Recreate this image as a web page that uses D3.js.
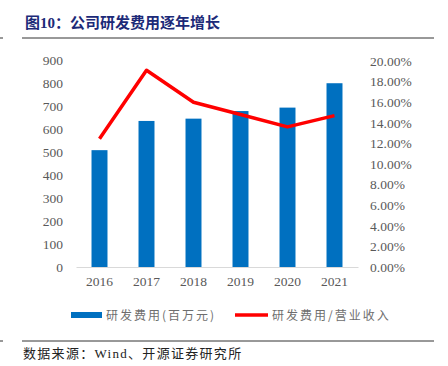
<!DOCTYPE html>
<html>
<head>
<meta charset="utf-8">
<script src="https://cdn.jsdelivr.net/npm/d3@7"></script>
<style>
  body { margin: 0; background: #fff; }
  svg text { font-family: "Liberation Serif", "Noto Sans CJK SC", serif; }
</style>
</head>
<body>
<div id="chart"></div>
<script>
const years = ["2016", "2017", "2018", "2019", "2020", "2021"];
const rdCost = [508, 635, 645, 678, 693, 799];
const rdRatio = [0.1245, 0.191, 0.160, 0.148, 0.136, 0.147];
const leftTicks = [0, 100, 200, 300, 400, 500, 600, 700, 800, 900];
const rightTicks = [0, 0.02, 0.04, 0.06, 0.08, 0.10, 0.12, 0.14, 0.16, 0.18, 0.20];

const width = 448, height = 366;
const blue = "#0070c0", red = "#ff0000", gray = "#595959";
const cjk = '"Noto Sans CJK SC", sans-serif';
const serif = '"Liberation Serif", "Noto Sans CJK SC", serif';

const svg = d3.select("#chart").append("svg")
  .attr("width", width).attr("height", height);

// title
svg.append("text")
  .attr("x", 25).attr("y", 28)
  .attr("fill", "#1c2a78")
  .attr("font-size", 15).attr("font-weight", "bold")
  .style("font-family", serif)
  .text("图10：公司研发费用逐年增长");
svg.append("line").attr("x1", 22).attr("x2", 434).attr("y1", 38).attr("y2", 38)
  .attr("stroke", "#333").attr("stroke-width", 1);
svg.append("line").attr("x1", 0).attr("x2", 3).attr("y1", 38).attr("y2", 38)
  .attr("stroke", "#333").attr("stroke-width", 1);

const x = d3.scaleBand().domain(years).range([76, 358]).paddingInner(0.66).paddingOuter(0.33);
const yL = d3.scaleLinear().domain([0, 900]).range([267, 60]);
const yR = d3.scaleLinear().domain([0, 0.20]).range([267, 61]);

// left axis
const axL = svg.append("g").attr("transform", "translate(76,0)")
  .call(d3.axisLeft(yL).tickValues(leftTicks).tickSize(0).tickPadding(13));
axL.select(".domain").remove();
axL.selectAll("text").attr("fill", gray).attr("font-size", 13.5)
  .style("font-family", '"Liberation Serif", serif');

// right axis
const axR = svg.append("g").attr("transform", "translate(358,0)")
  .call(d3.axisRight(yR).tickValues(rightTicks).tickSize(0).tickPadding(12)
    .tickFormat(d3.format(".2%")));
axR.select(".domain").remove();
axR.selectAll("text").attr("fill", gray).attr("font-size", 13.5)
  .style("font-family", '"Liberation Serif", serif');

// bars
svg.append("g").selectAll("rect").data(years).enter().append("rect")
  .attr("x", d => x(d))
  .attr("width", x.bandwidth())
  .attr("y", (d, i) => yL(rdCost[i]))
  .attr("height", (d, i) => yL(0) - yL(rdCost[i]))
  .attr("fill", blue);

// baseline + x axis
const axX = svg.append("g").attr("transform", "translate(0,267)")
  .call(d3.axisBottom(x).tickSize(0).tickPadding(9));
axX.select(".domain").attr("stroke", "#d9d9d9").attr("stroke-width", 1);
axX.selectAll("text").attr("fill", gray).attr("font-size", 13.5)
  .style("font-family", '"Liberation Serif", serif');

// ratio line
const line = d3.line()
  .x((d, i) => x(years[i]) + x.bandwidth() / 2)
  .y(d => yR(d));
svg.append("path").datum(rdRatio)
  .attr("d", line)
  .attr("fill", "none")
  .attr("stroke", red)
  .attr("stroke-width", 3.5)
  .attr("stroke-linejoin", "round");

// legend
const lg = svg.append("g");
lg.append("rect").attr("x", 71).attr("y", 312).attr("width", 31).attr("height", 6).attr("fill", blue);
lg.append("text").attr("x", 106).attr("y", 319.5).attr("fill", "#6e6e6e").attr("font-size", 12)
  .style("font-family", cjk).attr("letter-spacing", 2).text("研发费用(百万元)");
lg.append("line").attr("x1", 235).attr("x2", 268).attr("y1", 315).attr("y2", 315)
  .attr("stroke", red).attr("stroke-width", 3.5);
lg.append("text").attr("x", 272).attr("y", 319.5).attr("fill", "#6e6e6e").attr("font-size", 12)
  .style("font-family", cjk).attr("letter-spacing", 2).text("研发费用/营业收入");

// source
svg.append("line").attr("x1", 22).attr("x2", 434).attr("y1", 341).attr("y2", 341)
  .attr("stroke", "#333").attr("stroke-width", 1);
svg.append("line").attr("x1", 0).attr("x2", 3).attr("y1", 341).attr("y2", 341)
  .attr("stroke", "#333").attr("stroke-width", 1);
svg.append("text").attr("x", 23).attr("y", 358).attr("fill", "#222").attr("font-size", 13)
  .attr("letter-spacing", 1.3)
  .style("font-family", serif)
  .text("数据来源：Wind、开源证券研究所");
</script>
</body>
</html>
